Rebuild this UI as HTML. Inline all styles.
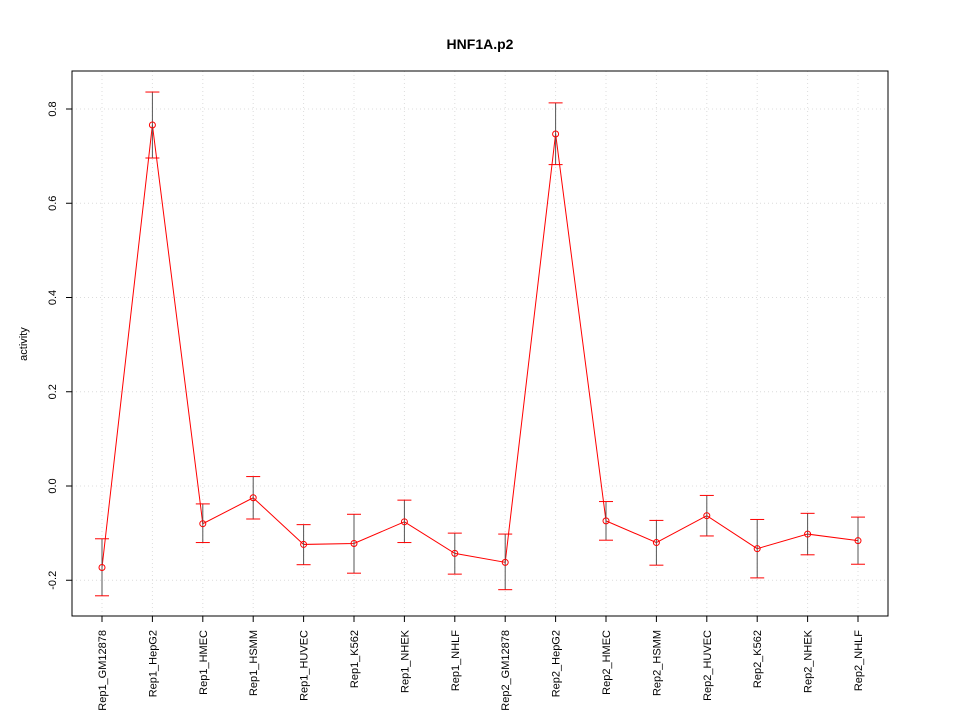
<!DOCTYPE html>
<html><head><meta charset="utf-8"><style>
body{margin:0;background:#fff;}
svg text{font-family:"Liberation Sans",sans-serif;}
</style></head><body>
<svg id="chart" width="960" height="720" xmlns="http://www.w3.org/2000/svg">
<rect width="960" height="720" fill="#fff"/>
<text x="480" y="49" text-anchor="middle" font-size="14" font-weight="bold">HNF1A.p2</text>
<text transform="translate(27,344) rotate(-90)" text-anchor="middle" font-size="11">activity</text>
<g id="grid"></g><g id="axes"></g><g id="marks"></g>
<rect x="72" y="71" width="816" height="545" fill="none" stroke="#000"/>
</svg>
<script>
const categories=["Rep1_GM12878","Rep1_HepG2","Rep1_HMEC","Rep1_HSMM","Rep1_HUVEC","Rep1_K562","Rep1_NHEK","Rep1_NHLF","Rep2_GM12878","Rep2_HepG2","Rep2_HMEC","Rep2_HSMM","Rep2_HUVEC","Rep2_K562","Rep2_NHEK","Rep2_NHLF"];
const values=[-0.173,0.766,-0.080,-0.025,-0.124,-0.122,-0.076,-0.143,-0.162,0.747,-0.074,-0.120,-0.063,-0.133,-0.102,-0.116];
const upper=[-0.112,0.836,-0.038,0.020,-0.082,-0.060,-0.030,-0.100,-0.102,0.813,-0.033,-0.073,-0.020,-0.071,-0.058,-0.066];
const lower=[-0.233,0.696,-0.120,-0.070,-0.167,-0.185,-0.120,-0.187,-0.220,0.682,-0.115,-0.168,-0.106,-0.195,-0.146,-0.166];
const yTicks=[-0.2,0.0,0.2,0.4,0.6,0.8];
const yTickLabels=["-0.2","0.0","0.2","0.4","0.6","0.8"];
const NS="http://www.w3.org/2000/svg";
function xs(i){return 102+i*(858-102)/(categories.length-1);}
function ys(v){return 486-v*(486-109)/0.8;}
function mk(tag,attrs,parent,text){const e=document.createElementNS(NS,tag);for(const k in attrs)e.setAttribute(k,attrs[k]);if(text!==undefined)e.textContent=text;document.getElementById(parent).appendChild(e);return e;}
yTicks.forEach((t,i)=>{
  let g=mk('line',{x1:72,x2:888,y1:ys(t),y2:ys(t),stroke:'#dcdcdc','stroke-dasharray':'1,3'},'grid');
  
  
  let tk=mk('line',{x1:66,x2:72,y1:ys(t),y2:ys(t),stroke:'#000'},'axes');
  
  
  let lb=mk('text',{transform:`translate(56,${ys(t)}) rotate(-90)`,'text-anchor':'middle','font-size':11},'axes',yTickLabels[i]);
  
  
});
categories.forEach((c,i)=>{
  const x=xs(i);
  let g=mk('line',{x1:x,x2:x,y1:71,y2:616,stroke:'#dcdcdc','stroke-dasharray':'1,3'},'grid');
  
  
  let tk=mk('line',{x1:x,x2:x,y1:616,y2:622,stroke:'#000'},'axes');
  
  
  let lb=mk('text',{transform:`translate(${x+4},630) rotate(-90)`,'text-anchor':'end','font-size':11},'axes',c);
  
  
});
let pts=values.map((v,i)=>xs(i)+','+ys(v)).join(' ');
let pl=mk('polyline',{points:pts,fill:'none',stroke:'#ff0000','stroke-width':1},'marks');


values.forEach((v,i)=>{
  const x=xs(i);
  let eb=mk('line',{x1:x,x2:x,y1:ys(upper[i]),y2:ys(lower[i]),stroke:'#555'},'marks');
  
  
  [upper[i],lower[i]].forEach(b=>{
    let cp=mk('line',{x1:x-7,x2:x+7,y1:ys(b),y2:ys(b),stroke:'#ff0000'},'marks');
    
    
  });
  let c=mk('circle',{cx:x,cy:ys(v),r:3,fill:'none',stroke:'#ff0000'},'marks');
  
  
});
</script>
</body></html>
